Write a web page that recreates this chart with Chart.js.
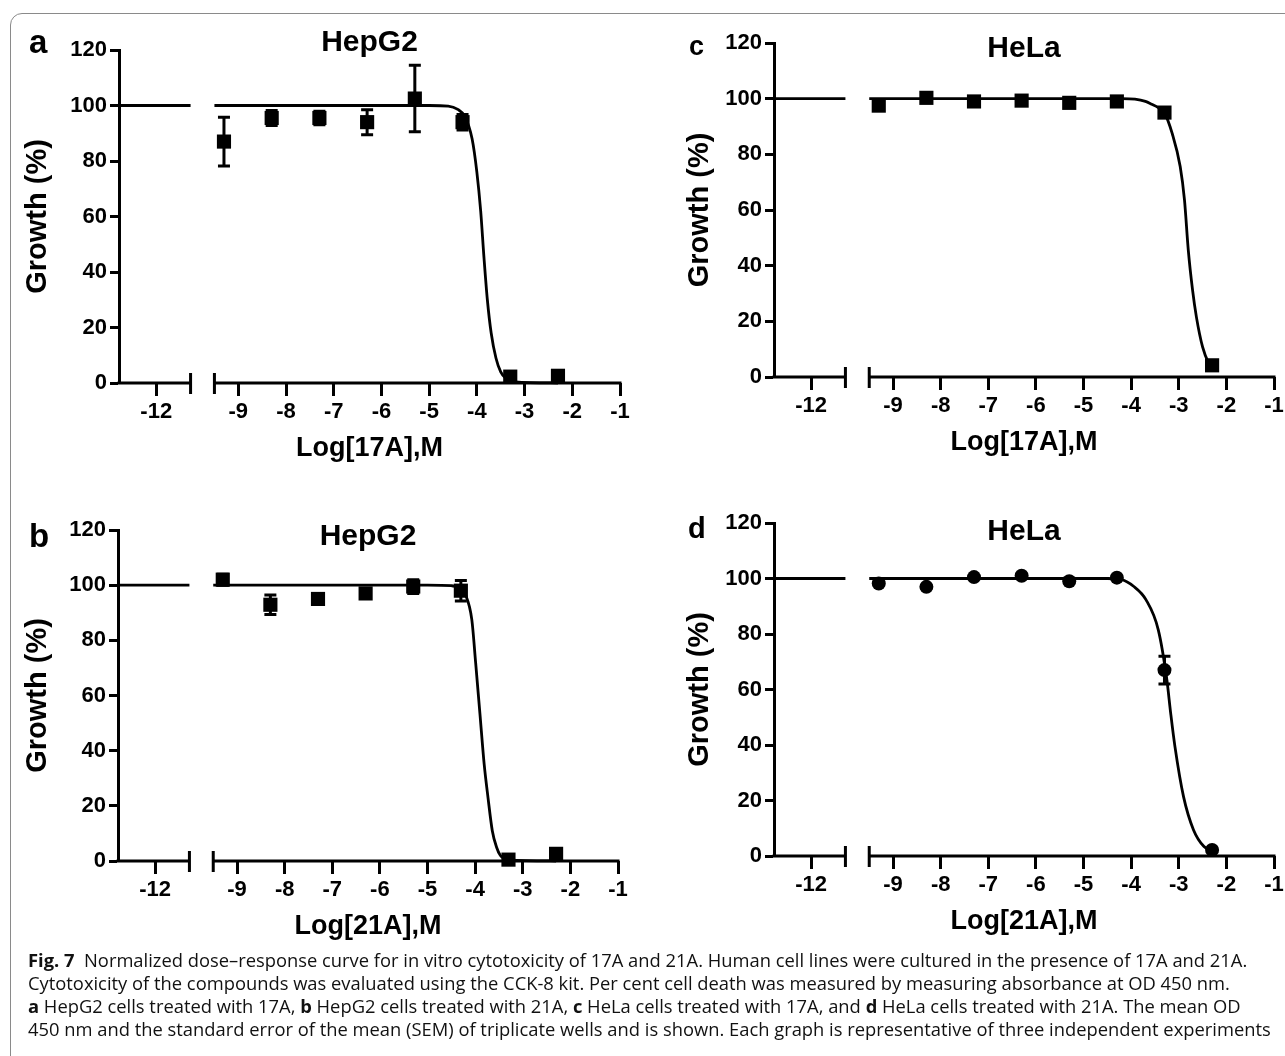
<!DOCTYPE html>
<html>
<head>
<meta charset="utf-8">
<script src="https://cdn.jsdelivr.net/npm/chart.js@4.4.1/dist/chart.umd.min.js"></script>
<style>
  html, body { margin: 0; padding: 0; background: #fff; }
  body { width: 1285px; height: 1056px; position: relative; overflow: hidden; }
  .frame { position: absolute; left: 10px; top: 13px; width: 1400px; height: 1200px;
           border: 1.5px solid #8a8a8a; border-top-left-radius: 12px; box-sizing: border-box; }
  canvas { position: absolute; }
  .caption { position: absolute; left: 28px; top: 948px; font-family: "Open Sans", sans-serif;
             font-size: 18.35px; line-height: 23px; color: #111; white-space: nowrap; }
  .caption b { font-weight: 700; }
</style>
</head>
<body>
<div class="frame"></div>
<canvas id="chartA" style="left:0px; top:10px"></canvas>
<canvas id="chartB" style="left:0px; top:490px"></canvas>
<canvas id="chartC" style="left:640px; top:3px"></canvas>
<canvas id="chartD" style="left:640px; top:483px"></canvas>
<div class="caption">
  <div><b>Fig. 7</b>&nbsp; Normalized dose–response curve for in vitro cytotoxicity of 17A and 21A. Human cell lines were cultured in the presence of 17A and 21A.</div>
  <div>Cytotoxicity of the compounds was evaluated using the CCK-8 kit. Per cent cell death was measured by measuring absorbance at OD 450 nm.</div>
  <div><b>a</b> HepG2 cells treated with 17A, <b>b</b> HepG2 cells treated with 21A, <b>c</b> HeLa cells treated with 17A, and <b>d</b> HeLa cells treated with 21A. The mean OD</div>
  <div>450 nm and the standard error of the mean (SEM) of triplicate wells and is shown. Each graph is representative of three independent experiments</div>
</div>
<script>
// --- data ---
const tickValues = [-12, -9, -8, -7, -6, -5, -4, -3, -2, -1];
const tickLabels = ['-12', '-9', '-8', '-7', '-6', '-5', '-4', '-3', '-2', '-1'];
const doses = [-9.3, -8.3, -7.3, -6.3, -5.3, -4.3, -3.3, -2.3];

const growthA = [87, 95.5, 95.5, 94, 102.5, 94, 2.3, 2.6];
const semA = [8.8, 2.7, 2.4, 4.5, 12, 2.8, 0.8, 0.8];
const growthB = [102, 92.9, 95, 97, 99.5, 98, 0.5, 2.6];
const semB = [2, 3.5, 1, 1.5, 2.5, 3.7, 0.5, 0.8];
const growthC = [97.5, 100.3, 99, 99.3, 98.5, 99, 95, 4.2];
const semC = [1, 0.8, 0.5, 0.5, 0.5, 0.5, 1, 0.8];
const growthD = [98.2, 97, 100.5, 101, 99, 100.3, 67, 2.2];
const semD = [0.5, 0.5, 0.5, 0.5, 0.5, 0.5, 5, 0.5];

// fitted curves (log dose, growth %)
const curveLeft = [[-12.78, 100], [-11.28, 100]];
const curveA = [[-9.5, 100], [-5, 100], [-4.6, 99.8], [-4.4, 98.6], [-4.25, 96], [-4.1, 88], [-4.0, 76],
  [-3.92, 62], [-3.85, 45], [-3.78, 30], [-3.7, 18], [-3.6, 9], [-3.5, 4], [-3.4, 1.8], [-3.2, 0.4], [-2.3, 0]];
const curveB = [[-9.5, 100], [-5, 100], [-4.5, 99.8], [-4.33, 99], [-4.2, 96.4], [-4.07, 87.5], [-3.99, 72],
  [-3.9, 53.5], [-3.81, 35], [-3.73, 23], [-3.64, 11], [-3.55, 5], [-3.47, 2], [-3.3, 0.4], [-2.3, 0]];
const curveC = [[-9.5, 100], [-4.2, 100], [-3.92, 99.8], [-3.7, 99], [-3.57, 98], [-3.43, 96.8], [-3.31, 95.2],
  [-3.14, 87.6], [-2.97, 75.6], [-2.88, 63.6], [-2.8, 45.6], [-2.71, 31.2], [-2.63, 21.6], [-2.5, 10.8],
  [-2.37, 4.9], [-2.3, 3.5]];
const curveD = [[-9.5, 100], [-4.5, 100], [-4.2, 99.6], [-3.95, 97.2], [-3.69, 92.4], [-3.43, 81.5],
  [-3.25, 63.5], [-3.17, 51.5], [-3.08, 39.4], [-2.9, 21.4], [-2.69, 9.4], [-2.47, 3.4], [-2.3, 1.9]];

// axis break: the left piece (around -12) is pulled right next to the main piece
const breakShift = 1.28;
const toAxis = v => (v < -10.5 ? v + breakShift : v);
const leftPieceEnd = -10.0;
const rightPieceStart = -9.5;

const black = '#000';
const tickFont = { family: 'Liberation Sans', weight: 'bold', size: 22 };
const titleFont = { family: 'Liberation Sans', weight: 'bold', size: 27 };

// x axis drawn as two pieces with end bars
const brokenAxis = {
    id: 'brokenAxis',
    afterDraw(chart) {
        const { ctx, chartArea, scales: { x } } = chart;
        const y0 = chartArea.bottom;
        const xl = x.getPixelForValue(leftPieceEnd);
        const xr = x.getPixelForValue(rightPieceStart);
        ctx.save();
        ctx.strokeStyle = black;
        ctx.lineWidth = 3;
        ctx.beginPath();
        ctx.moveTo(chartArea.left - 1.5, y0); ctx.lineTo(xl, y0);
        ctx.moveTo(xr, y0); ctx.lineTo(chartArea.right + 1.5, y0);
        ctx.moveTo(xl, y0 - 10); ctx.lineTo(xl, y0 + 11);
        ctx.moveTo(xr, y0 - 10); ctx.lineTo(xr, y0 + 11);
        ctx.stroke();
        ctx.restore();
    }
};

// SEM bars
const errorBars = {
    id: 'errorBars',
    afterDatasetsDraw(chart, args, opts) {
        const { ctx, scales: { x, y } } = chart;
        ctx.save();
        ctx.strokeStyle = black;
        ctx.lineWidth = 3;
        opts.means.forEach((m, i) => {
            const px = x.getPixelForValue(toAxis(doses[i]));
            const top = y.getPixelForValue(m + opts.sems[i]);
            const bot = y.getPixelForValue(m - opts.sems[i]);
            ctx.beginPath();
            ctx.moveTo(px, top); ctx.lineTo(px, bot);
            ctx.moveTo(px - 6, top); ctx.lineTo(px + 6, top);
            ctx.moveTo(px - 6, bot); ctx.lineTo(px + 6, bot);
            ctx.stroke();
        });
        ctx.restore();
    }
};

// panel letter and cell line title
const panelText = {
    id: 'panelText',
    afterDraw(chart, args, opts) {
        const { ctx, chartArea } = chart;
        ctx.save();
        ctx.fillStyle = black;
        ctx.textBaseline = 'alphabetic';
        ctx.font = 'bold ' + opts.letterSize + 'px "Liberation Sans"';
        ctx.textAlign = 'left';
        ctx.fillText(opts.letter, opts.letterX, opts.letterY);
        ctx.font = 'bold 30px "Liberation Sans"';
        ctx.textAlign = 'center';
        ctx.fillText(opts.title, (chartArea.left + chartArea.right) / 2, opts.titleY);
        ctx.restore();
    }
};

function makePanel(id, p) {
    const el = document.getElementById(id);
    el.width = p.w; el.height = p.h;
    el.style.width = p.w + 'px'; el.style.height = p.h + 'px';

    const curvePts = curveLeft.concat([[-11, null]], p.curve).map(([cx, cy]) => ({ x: toAxis(cx), y: cy }));
    const markerPts = doses.map((d, i) => ({ x: toAxis(d), y: p.growth[i] }));

    return new Chart(el, {
        type: 'scatter',
        data: {
            datasets: [
                {
                    data: curvePts,
                    showLine: true,
                    spanGaps: false,
                    borderColor: black,
                    borderWidth: 2.8,
                    pointRadius: 0,
                    cubicInterpolationMode: 'monotone',
                    clip: false,
                    order: 2
                },
                {
                    data: markerPts,
                    pointStyle: p.marker,
                    pointRadius: p.marker === 'rect' ? 10 : 7,
                    backgroundColor: black,
                    borderColor: black,
                    borderWidth: 0,
                    clip: false,
                    order: 1
                }
            ]
        },
        options: {
            responsive: false,
            animation: false,
            events: [],
            layout: { padding: { top: 40, right: p.padRight, left: 0, bottom: 0 } },
            plugins: {
                legend: { display: false },
                tooltip: { enabled: false },
                errorBars: { means: p.growth, sems: p.sem },
                panelText: p.text
            },
            scales: {
                x: {
                    type: 'linear',
                    min: -11.5,
                    max: -1,
                    afterBuildTicks: s => { s.ticks = tickValues.map(v => ({ value: toAxis(v) })); },
                    afterFit: s => { s.height = p.h - 40 - p.plotH; },
                    border: { display: false },
                    grid: { drawOnChartArea: false, drawTicks: true, tickLength: 13, tickWidth: 3, tickColor: black },
                    ticks: { color: black, font: tickFont, padding: 3, autoSkip: false, maxRotation: 0,
                             callback: (v, i) => tickLabels[i] },
                    title: { display: true, text: p.xTitle, color: black, font: titleFont,
                             padding: { top: 0, bottom: 15 } }
                },
                y: {
                    min: 0,
                    max: 120,
                    afterFit: s => { s.width = p.axisX; },
                    border: { display: true, width: 3, color: black },
                    grid: { drawOnChartArea: false, drawTicks: true, tickLength: 9, tickWidth: 3, tickColor: black },
                    ticks: { stepSize: 20, color: black, font: tickFont, padding: 3 },
                    title: { display: true, text: 'Growth (%)', color: black,
                             font: { family: 'Liberation Sans', weight: 'bold', size: 29 },
                             padding: { top: p.yTitlePad, bottom: 0 } }
                }
            }
        },
        plugins: [brokenAxis, errorBars, panelText]
    });
}

document.addEventListener('DOMContentLoaded', () => {
    makePanel('chartA', {
        w: 640, h: 470, plotH: 333, axisX: 119, padRight: 20, yTitlePad: 21,
        growth: growthA, sem: semA, curve: curveA, marker: 'rect', xTitle: 'Log[17A],M',
        text: { letter: 'a', letterSize: 33, letterX: 29, letterY: 43, title: 'HepG2', titleY: 41 }
    });
    makePanel('chartB', {
        w: 640, h: 468, plotH: 331, axisX: 118, padRight: 22, yTitlePad: 21,
        growth: growthB, sem: semB, curve: curveB, marker: 'rect', xTitle: 'Log[21A],M',
        text: { letter: 'b', letterSize: 33, letterX: 29, letterY: 57, title: 'HepG2', titleY: 55 }
    });
    makePanel('chartC', {
        w: 660, h: 471, plotH: 334, axisX: 134, padRight: 26, yTitlePad: 43,
        growth: growthC, sem: semC, curve: curveC, marker: 'rect', xTitle: 'Log[17A],M',
        text: { letter: 'c', letterSize: 27, letterX: 49, letterY: 52, title: 'HeLa', titleY: 54 }
    });
    makePanel('chartD', {
        w: 660, h: 470, plotH: 333, axisX: 134, padRight: 26, yTitlePad: 43,
        growth: growthD, sem: semD, curve: curveD, marker: 'circle', xTitle: 'Log[21A],M',
        text: { letter: 'd', letterSize: 29, letterX: 48, letterY: 55, title: 'HeLa', titleY: 57 }
    });
});
</script>
</body>
</html>
